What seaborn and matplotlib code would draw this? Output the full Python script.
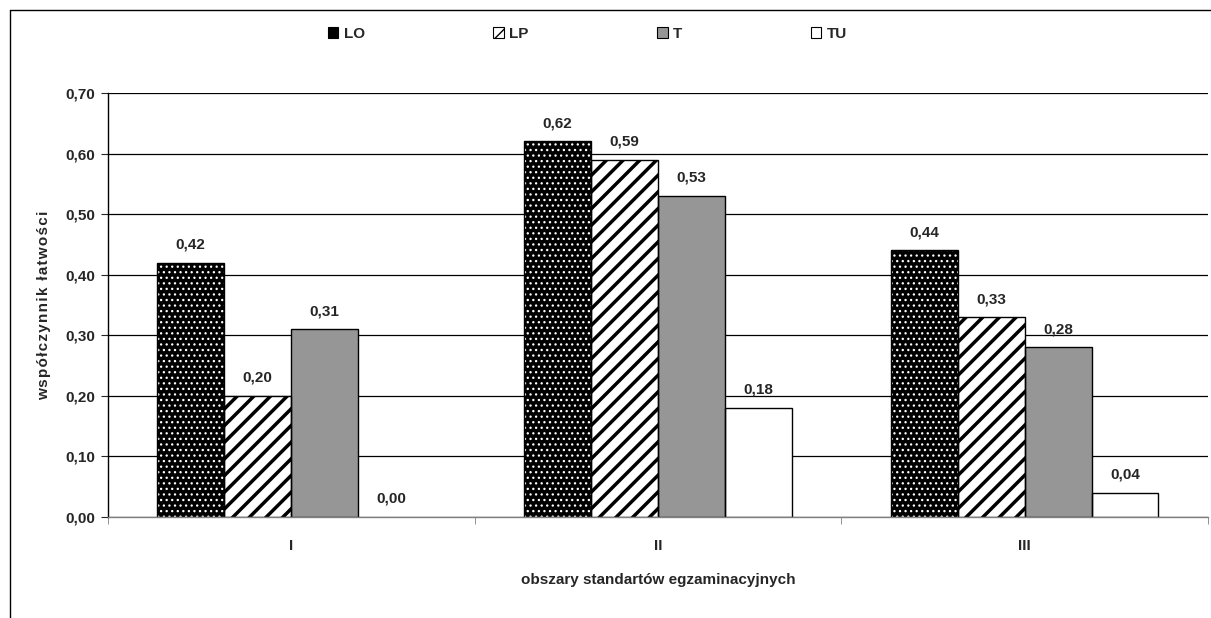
import matplotlib
matplotlib.use('Agg')
import matplotlib.pyplot as plt
from matplotlib.patches import Patch, Rectangle
from matplotlib.lines import Line2D
from matplotlib.ticker import FuncFormatter
import pandas as pd
import seaborn as sns

# data
areas = ['I', 'II', 'III']
schools = ['LO', 'LP', 'T', 'TU']
lo_vals = [0.42, 0.62, 0.44]
lp_vals = [0.20, 0.59, 0.33]
t_vals = [0.31, 0.53, 0.28]
tu_vals = [0.00, 0.18, 0.04]
y_ticks = [0.0, 0.1, 0.2, 0.3, 0.4, 0.5, 0.6, 0.7]

series = {'LO': lo_vals, 'LP': lp_vals, 'T': t_vals, 'TU': tu_vals}
rows = []
for s in schools:
    for a, v in zip(areas, series[s]):
        rows.append({'obszar': a, 'szkola': s, 'wartosc': v})
df = pd.DataFrame(rows)

# fill, hatch, hatch colour, hatch linewidth for each school type
styles = {
    'LO': ('black', '...', 'white', 0.9),
    'LP': ('white', '//', 'black', 2.5),
    'T': ('#969696', '', 'black', 1.0),
    'TU': ('white', '', 'black', 1.0),
}

FS = 11

sns.set_style('white')
plt.rcParams['font.family'] = ['Liberation Sans', 'DejaVu Sans']
plt.rcParams['font.weight'] = 'bold'

fig = plt.figure(figsize=(12.11, 6.18), dpi=100)
ax = fig.add_axes([0.089, 0.1634, 0.9085, 0.6861])

sns.barplot(data=df, x='obszar', y='wartosc', hue='szkola', order=areas,
            hue_order=schools, width=0.73, gap=0, ax=ax, legend=False,
            palette=['black', 'white', '#969696', 'white'], saturation=1)

# hatches and black outlines
for s, cont in zip(schools, ax.containers):
    face, hatch, hcol, hlw = styles[s]
    for p in cont:
        p.set_facecolor(face)
        p.set_hatch(hatch)
        p.set_edgecolor(hcol)
        p.set_linewidth(0)
        if hasattr(p, 'set_hatch_linewidth'):
            p.set_hatch_linewidth(hlw)
        else:
            p._hatch_linewidth = hlw
        if p.get_height() > 0:
            ax.add_patch(Rectangle(p.get_xy(), p.get_width(), p.get_height(),
                                   fill=False, edgecolor='black', linewidth=1.0,
                                   zorder=p.get_zorder() + 0.1))
    labels = ['{:.2f}'.format(v).replace('.', ',') for v in series[s]]
    ax.bar_label(cont, labels=labels, padding=8, fontsize=FS,
                 fontweight='bold')

ax.set_ylim(0, 0.7)
ax.set_xlim(-0.5, 2.5)
ax.set_yticks(y_ticks)
ax.yaxis.set_major_formatter(FuncFormatter(lambda v, pos: '{:.2f}'.format(v).replace('.', ',')))
ax.set_axisbelow(True)
ax.yaxis.grid(True, color='black', linewidth=0.9)

# category names centred, ticks at category boundaries
ax.set_xticks([0, 1, 2], areas)
ax.set_xticks([-0.5, 0.5, 1.5, 2.5], minor=True)
ax.tick_params(axis='x', which='major', length=0, pad=16, labelsize=FS)
ax.tick_params(axis='x', which='minor', length=5, direction='out',
               color='#808080', bottom=True)
ax.tick_params(axis='y', length=5, direction='out', left=True,
               labelsize=FS, pad=4)
for lab in ax.get_yticklabels() + ax.get_xticklabels():
    lab.set_fontweight('bold')

sns.despine(ax=ax, top=True, right=True)
ax.spines['left'].set_color('black')
ax.spines['left'].set_linewidth(1.0)
ax.spines['bottom'].set_color('#808080')
ax.spines['bottom'].set_linewidth(1.0)

ylab = '\u200a'.join('współczynnik łatwości')
ax.set_ylabel(ylab, fontsize=FS, fontweight='bold', labelpad=10)
ax.set_xlabel('obszary standartów egzaminacyjnych', fontsize=FS,
              fontweight='bold', labelpad=14)

handles = []
for s in schools:
    face, hatch, hcol, hlw = styles[s]
    handles.append(Patch(facecolor=face, edgecolor='black', hatch=hatch,
                         linewidth=0.8))
fig.legend(handles, schools, loc='center', bbox_to_anchor=(0.485, 0.945),
           ncol=4, frameon=False, handlelength=0.7, handleheight=0.7,
           handletextpad=0.35, columnspacing=8.4,
           prop={'weight': 'bold', 'size': FS})

# frame lines of the original screenshot
fig.add_artist(Line2D([0.0083, 1.0], [0.984, 0.984], color='black', lw=1.0))
fig.add_artist(Line2D([0.0083, 0.0083], [0.0, 0.984], color='black', lw=1.0))

fig.savefig('out.png', dpi=100)
